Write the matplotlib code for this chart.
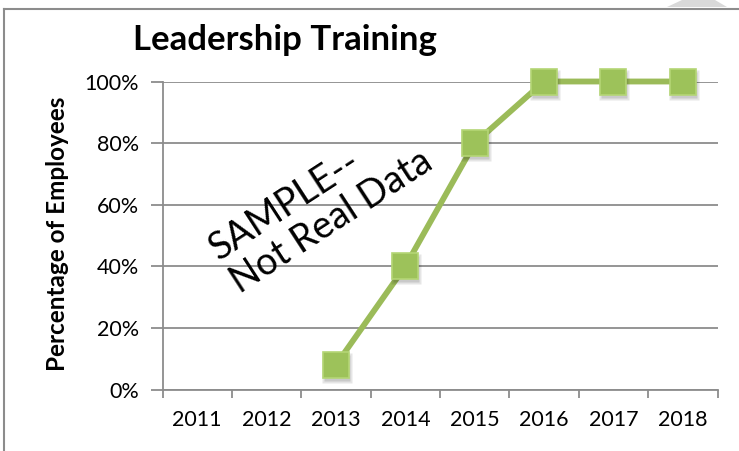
import matplotlib
matplotlib.use("Agg")
import matplotlib.pyplot as plt
from matplotlib.patches import Polygon
from matplotlib.lines import Line2D
from matplotlib.ticker import FixedLocator, PercentFormatter
from matplotlib.transforms import offset_copy

plt.rcParams['font.family'] = ['Lato', 'DejaVu Sans']

years = ['2011', '2012', '2013', '2014', '2015', '2016', '2017', '2018']
pct = [None, None, 0.08, 0.40, 0.80, 1.00, 1.00, 1.00]
yticks = [0, 0.2, 0.4, 0.6, 0.8, 1.0]

W, H = 739, 451
fig = plt.figure(figsize=(W / 100, H / 100), dpi=100)
ax = fig.add_axes([162.5 / W, 1 - 389.5 / H, 555 / W, 308 / H])

x = list(range(1, len(years) + 1))
xs = [xi for xi, v in zip(x, pct) if v is not None]
vs = [v for v in pct if v is not None]

green = '#9bbb59'
ax.plot(xs, vs, color=green, lw=4.2, zorder=3, clip_on=False)
# soft shadow under the markers
for dx, dy, a, ms in [(1, -3, 0.10, 21), (1, -3, 0.12, 19)]:
    tr = offset_copy(ax.transData, fig=fig, x=dx, y=dy, units='dots')
    ax.plot(xs, vs, ls='none', marker='s', ms=ms, mfc='black', mec='none', alpha=a,
            transform=tr, zorder=3.5, clip_on=False)
ax.plot(xs, vs, ls='none', marker='s', ms=19, mfc='#9dc25a', mec='#b4d675', mew=1.2,
        zorder=4, clip_on=False)

ax.set_xlim(0.5, len(years) + 0.5)
ax.set_ylim(0, 1.0)

# ticks on category boundaries, labels at centres
ax.xaxis.set_major_locator(FixedLocator([i + 0.5 for i in range(len(years) + 1)]))
ax.xaxis.set_minor_locator(FixedLocator(x))
ax.set_xticklabels([''] * (len(years) + 1))
ax.set_xticklabels(years, minor=True)
ax.tick_params(axis='x', which='major', length=6, width=1.3, color='#8c8c8c')
ax.tick_params(axis='x', which='minor', length=0, pad=15, labelsize=15.5)

ax.set_yticks(yticks)
ax.yaxis.set_major_formatter(PercentFormatter(1.0, decimals=0))
ax.tick_params(axis='y', length=9, width=1.3, color='#8c8c8c', pad=8, labelsize=15.5)

ax.grid(axis='y', color='#8c8c8c', lw=1.3)
ax.set_axisbelow(True)
for s in ['top', 'right']:
    ax.spines[s].set_visible(False)
for s in ['left', 'bottom']:
    ax.spines[s].set_color('#8c8c8c')
    ax.spines[s].set_linewidth(1.3)

fig.text(285 / W, 1 - 40 / H, 'Leadership Training', fontsize=25, fontweight='bold',
         ha='center', va='center')
fig.text(58 / W, 1 - 234 / H, 'Percentage of Employees', fontsize=17.5, fontweight='bold',
         rotation=90, ha='center', va='center')
fig.text(321 / W, 1 - 205 / H, 'SAMPLE--\nNot Real Data', fontsize=27, rotation=33,
         ha='center', va='center', multialignment='left', linespacing=1.15,
         rotation_mode='anchor')

# outer frame of the chart
fig.add_artist(Line2D([4 / W, 4 / W], [0, 1 - 9 / H], color='#8c8c8c', lw=1.5))
fig.add_artist(Line2D([4 / W, 1], [1 - 9 / H, 1 - 9 / H], color='#8c8c8c', lw=1.5))
fig.add_artist(Polygon([(667 / W, 1 - 7 / H), (682 / W, 1), (715 / W, 1), (727 / W, 1 - 7 / H)],
                       closed=True, fc='#d9d9d9', ec='none', transform=fig.transFigure))

fig.savefig('out.png', dpi=100)
